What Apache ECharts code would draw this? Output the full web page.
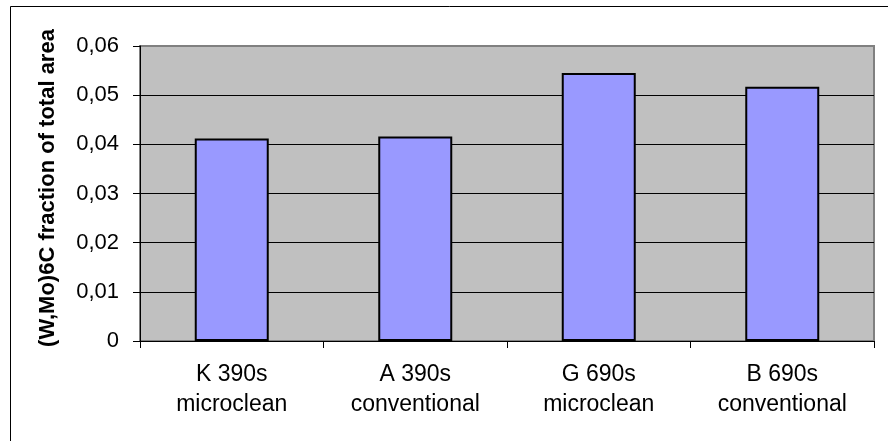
<!DOCTYPE html>
<html>
<head>
<meta charset="utf-8">
<script src="https://cdn.jsdelivr.net/npm/echarts@6/dist/echarts.min.js"></script>
<style>
html,body{margin:0;padding:0;background:#fff;}
#chart{width:888px;height:441px;}
</style>
</head>
<body>
<div id="chart"></div>
<script>
const categories = ['K 390s\nmicroclean', 'A 390s\nconventional', 'G 690s\nmicroclean', 'B 690s\nconventional'];
const values = [0.0412, 0.0416, 0.0545, 0.0517];
const yTickLabels = ['0', '0,01', '0,02', '0,03', '0,04', '0,05', '0,06'];
const yTitle = '(W,Mo)6C fraction of total area';

const chart = echarts.init(document.getElementById('chart'), null, {renderer: 'canvas'});
chart.setOption({
  animation: false,
  backgroundColor: '#ffffff',
  textStyle: {fontFamily: 'Liberation Sans, Arial, sans-serif'},
  grid: {
    left: 140, top: 46, right: 14, bottom: 100,
    show: true, backgroundColor: '#C0C0C0', borderColor: '#808080', borderWidth: 2
  },
  graphic: [
    {type: 'rect', shape: {x: 10.5, y: 6.5, width: 900, height: 500}, style: {fill: 'none', stroke: '#000', lineWidth: 1}, z: 100},
    {type: 'text', x: 48, y: 188, rotation: Math.PI / 2,
     style: {text: yTitle, fontFamily: 'Liberation Sans, Arial, sans-serif', fontWeight: 'bold', fontSize: 22, fill: '#000', align: 'center', verticalAlign: 'middle'}}
  ],
  xAxis: {
    type: 'category',
    data: categories,
    boundaryGap: true,
    axisLine: {show: true, lineStyle: {color: '#000', width: 1}},
    axisTick: {show: true, length: 7, interval: 0, alignWithLabel: false, lineStyle: {color: '#000'}},
    axisLabel: {interval: 0, margin: 19, fontSize: 23, lineHeight: 30, color: '#000', fontFamily: 'Liberation Sans, Arial, sans-serif'},
    splitLine: {show: false}
  },
  yAxis: {
    type: 'value',
    min: 0, max: 0.06, interval: 0.01,
    axisLine: {show: true, lineStyle: {color: '#000', width: 1}},
    axisTick: {show: true, length: 7, lineStyle: {color: '#000'}},
    axisLabel: {
      margin: 21, fontSize: 22, color: '#000', fontFamily: 'Liberation Sans, Arial, sans-serif',
      formatter: function (v) { return yTickLabels[Math.round(v / 0.01)]; }
    },
    splitLine: {show: true, showMaxLine: false, lineStyle: {color: '#000', width: 1}}
  },
  series: [{
    type: 'bar',
    data: values,
    barWidth: 74,
    itemStyle: {color: '#9999FF', borderColor: '#000', borderWidth: 2}
  }]
});
</script>
</body>
</html>
